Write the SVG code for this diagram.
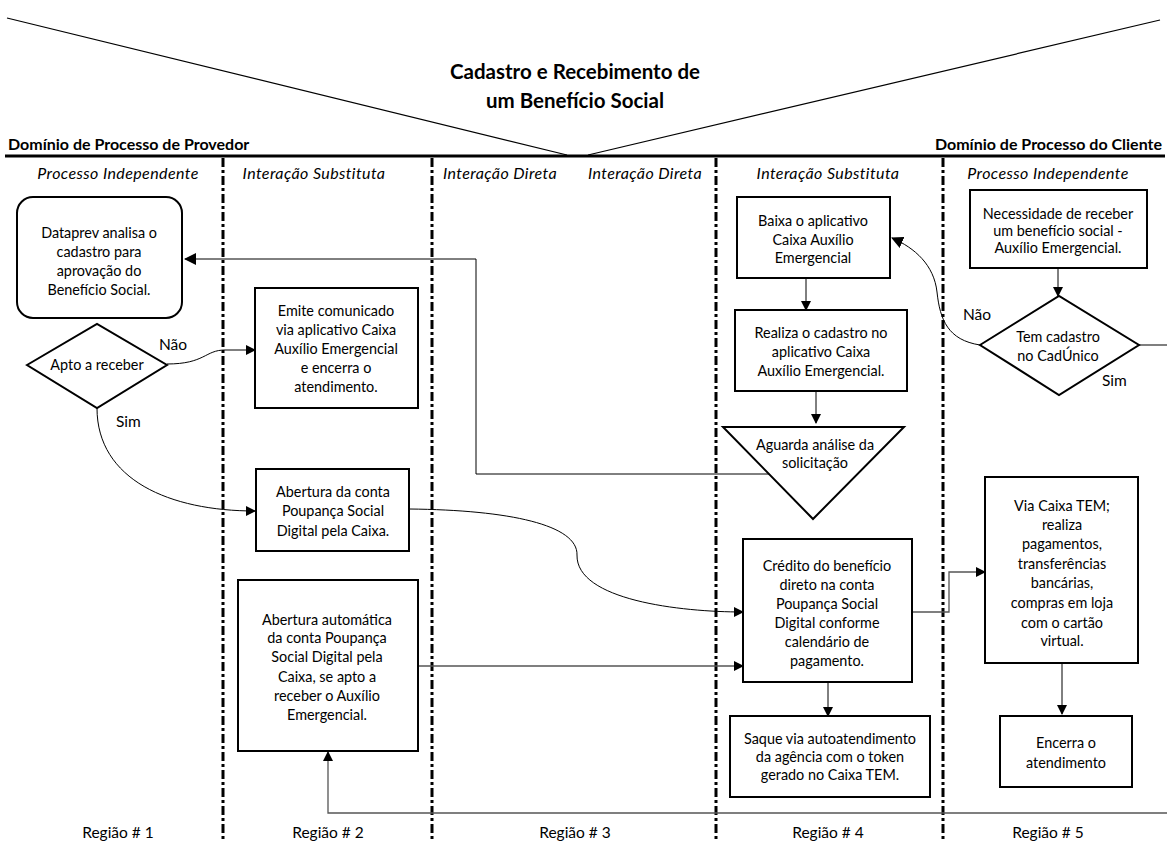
<svg xmlns="http://www.w3.org/2000/svg" width="1167" height="841" viewBox="0 0 1167 841">
<style>
text{font-family:Lato,"Liberation Sans",sans-serif;fill:#000}
.t{font-size:14.4px;text-anchor:middle}
.title{font-size:20.5px;font-weight:bold;text-anchor:middle}
.dom{font-size:16px;font-weight:bold}
.hdr{font-size:16px;font-style:italic;text-anchor:middle;letter-spacing:0.4px}
.reg{font-size:15.5px;text-anchor:middle}
.lbl{font-size:15.5px}
.box{fill:#fff;stroke:#000;stroke-width:2}
.sep{stroke:#000;stroke-width:3;stroke-dasharray:9 3 3 3;fill:none}
.c{fill:none;stroke:#000;stroke-width:1}
.g{fill:none;stroke:#555;stroke-width:1.3}
</style>
<defs>
<marker id="ah" markerWidth="10" markerHeight="10" refX="9" refY="5" orient="auto" markerUnits="userSpaceOnUse">
<path d="M0,0 L10,5 L0,10 Z" fill="#000"/>
</marker>
<marker id="ahs" markerWidth="12" markerHeight="12" refX="11" refY="6" orient="auto" markerUnits="userSpaceOnUse">
<path d="M0,0 L12,6 L0,12 Z" fill="#000"/>
</marker>
</defs>
<rect width="1167" height="841" fill="#fff"/>
<g id="frame">
<line x1="7" y1="18" x2="567" y2="155" stroke="#000" stroke-width="1.2"/>
<line x1="588" y1="155" x2="1160" y2="20" stroke="#000" stroke-width="1.2"/>
<line x1="5" y1="156" x2="1165" y2="156" stroke="#000" stroke-width="3"/>
<text class="title" x="575" y="79">Cadastro e Recebimento de</text>
<text class="title" x="575" y="108">um Benefício Social</text>
<text class="dom" x="8" y="150">Domínio de Processo de Provedor</text>
<text class="dom" x="1162" y="150" text-anchor="end">Domínio de Processo do Cliente</text>
<text class="hdr" x="118" y="179">Processo Independente</text>
<text class="hdr" x="314" y="179">Interação Substituta</text>
<text class="hdr" x="500" y="179">Interação Direta</text>
<text class="hdr" x="645" y="179">Interação Direta</text>
<text class="hdr" x="828" y="179">Interação Substituta</text>
<text class="hdr" x="1048" y="179">Processo Independente</text>
<line class="sep" x1="223" y1="158" x2="223" y2="841"/>
<line class="sep" x1="432" y1="158" x2="432" y2="841"/>
<line class="sep" x1="716" y1="158" x2="716" y2="841"/>
<line class="sep" x1="943" y1="158" x2="943" y2="841"/>
<text class="reg" x="118" y="838">Região # 1</text>
<text class="reg" x="328" y="838">Região # 2</text>
<text class="reg" x="575" y="838">Região # 3</text>
<text class="reg" x="828" y="838">Região # 4</text>
<text class="reg" x="1048" y="838">Região # 5</text>
</g>
<g id="connectors">
<path class="c" d="M770,474 L476,474 L476,259 L185,259" marker-end="url(#ahs)"/>
<path class="c" d="M167,364 C205,364 205,350 225,350 L255,350" marker-end="url(#ah)"/>
<path class="c" d="M97,408 C97,480 170,511 255,511" marker-end="url(#ah)"/>
<path class="c" d="M409,509 C510,510 578,525 577,555 C576,600 680,612 743,612" marker-end="url(#ah)"/>
<path class="g" d="M418,666 L743,666" marker-end="url(#ah)"/>
<path class="c" d="M806,278 L806,310" marker-end="url(#ah)"/>
<path class="c" d="M816,391 L816,423" marker-end="url(#ah)"/>
<path class="c" d="M828,682 L828,716" marker-end="url(#ah)"/>
<path class="g" d="M912,612 L949,612 L949,572 L985,572" marker-end="url(#ah)"/>
<path class="c" d="M1062,663 L1062,714" marker-end="url(#ah)"/>
<path class="c" d="M1058,268 L1058,296" marker-end="url(#ah)"/>
<path class="c" d="M980,345 C948,340 940,320 937,292 C934,265 915,248 892,238" marker-end="url(#ahs)"/>
<path class="g" d="M1139,345 L1180,345 L1180,813 L328,813 L328,752" marker-end="url(#ah)"/>
<text class="lbl" x="159" y="350">Não</text>
<text class="lbl" x="116" y="427">Sim</text>
<text class="lbl" x="963" y="320">Não</text>
<text class="lbl" x="1102" y="386">Sim</text>
</g>
<g id="n-dataprev">
<rect class="box" x="17" y="197" width="165" height="121" rx="16"/>
<text class="t" x="99" y="238">Dataprev analisa o</text>
<text class="t" x="99" y="257">cadastro para</text>
<text class="t" x="99" y="276">aprovação do</text>
<text class="t" x="99" y="295">Benefício Social.</text>
</g>
<g id="n-apto">
<polygon class="box" points="27,365 97,324 167,365 97,408"/>
<text class="t" x="97" y="370">Apto a receber</text>
</g>
<g id="n-emite">
<rect class="box" x="255" y="288" width="163" height="120"/>
<text class="t" x="336" y="316">Emite comunicado</text>
<text class="t" x="336" y="335">via aplicativo Caixa</text>
<text class="t" x="336" y="354">Auxílio Emergencial</text>
<text class="t" x="336" y="373">e encerra o</text>
<text class="t" x="336" y="392">atendimento.</text>
</g>
<g id="n-abertura">
<rect class="box" x="256" y="469" width="153" height="82"/>
<text class="t" x="333" y="497">Abertura  da conta</text>
<text class="t" x="333" y="516">Poupança Social</text>
<text class="t" x="333" y="536">Digital pela Caixa.</text>
</g>
<g id="n-automatica">
<rect class="box" x="238" y="580" width="180" height="171"/>
<text class="t" x="327" y="625">Abertura  automática</text>
<text class="t" x="327" y="643">da conta  Poupança</text>
<text class="t" x="327" y="662">Social Digital pela</text>
<text class="t" x="327" y="682">Caixa, se apto a</text>
<text class="t" x="327" y="701">receber  o Auxílio</text>
<text class="t" x="327" y="720">Emergencial.</text>
</g>
<g id="n-baixa">
<rect class="box" x="737" y="197" width="153" height="81"/>
<text class="t" x="813" y="226">Baixa o aplicativo</text>
<text class="t" x="813" y="245">Caixa Auxílio</text>
<text class="t" x="813" y="263">Emergencial</text>
</g>
<g id="n-realiza">
<rect class="box" x="735" y="310" width="172" height="81"/>
<text class="t" x="821" y="338">Realiza o cadastro no</text>
<text class="t" x="821" y="357">aplicativo Caixa</text>
<text class="t" x="821" y="376">Auxílio Emergencial.</text>
</g>
<g id="n-aguarda">
<polygon class="box" points="723,427 904,427 813,519"/>
<text class="t" x="815" y="450">Aguarda análise da</text>
<text class="t" x="815" y="468">solicitação</text>
</g>
<g id="n-credito">
<rect class="box" x="743" y="539" width="169" height="143"/>
<text class="t" x="827" y="571">Crédito do benefício</text>
<text class="t" x="827" y="590">direto na conta</text>
<text class="t" x="827" y="609">Poupança Social</text>
<text class="t" x="827" y="628">Digital conforme</text>
<text class="t" x="827" y="647">calendário de</text>
<text class="t" x="827" y="666">pagamento.</text>
</g>
<g id="n-saque">
<rect class="box" x="730" y="716" width="200" height="81"/>
<text class="t" x="830" y="744">Saque via autoatendimento</text>
<text class="t" x="830" y="762">da agência com o token</text>
<text class="t" x="830" y="780">gerado no Caixa TEM.</text>
</g>
<g id="n-necessidade">
<rect class="box" x="970" y="190" width="177" height="78"/>
<text class="t" x="1058" y="219">Necessidade de receber</text>
<text class="t" x="1058" y="236">um benefício social -</text>
<text class="t" x="1058" y="253">Auxílio Emergencial.</text>
</g>
<g id="n-tem">
<polygon class="box" points="980,345 1059,296 1139,345 1059,395"/>
<text class="t" x="1058" y="342">Tem  cadastro</text>
<text class="t" x="1058" y="361">no CadÚnico</text>
</g>
<g id="n-via">
<rect class="box" x="985" y="477" width="153" height="186"/>
<text class="t" x="1062" y="511">Via Caixa TEM;</text>
<text class="t" x="1062" y="530">realiza</text>
<text class="t" x="1062" y="549">pagamentos,</text>
<text class="t" x="1062" y="569">transferências</text>
<text class="t" x="1062" y="588">bancárias,</text>
<text class="t" x="1062" y="608">compras em loja</text>
<text class="t" x="1062" y="628">com o cartão</text>
<text class="t" x="1062" y="646">virtual.</text>
</g>
<g id="n-encerra">
<rect class="box" x="1000" y="716" width="132" height="71"/>
<text class="t" x="1066" y="748">Encerra o</text>
<text class="t" x="1066" y="768">atendimento</text>
</g>
</svg>
